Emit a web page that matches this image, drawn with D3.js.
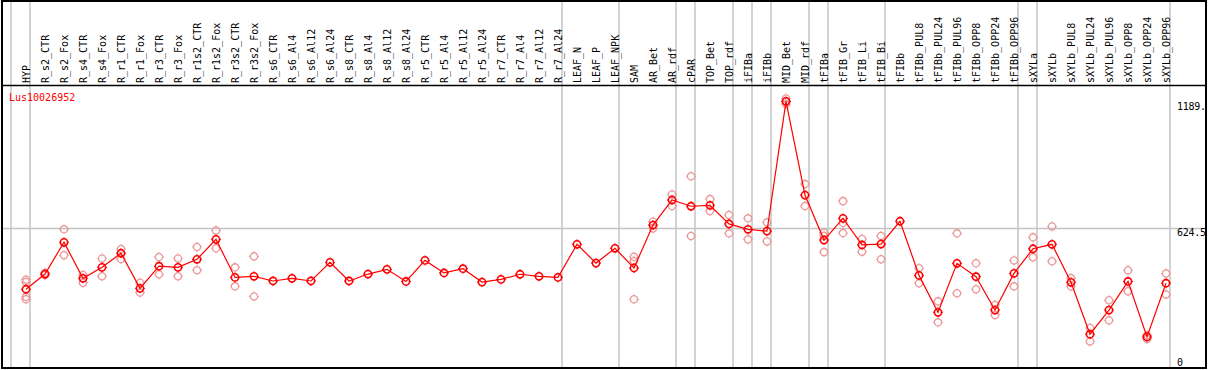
<!DOCTYPE html>
<html>
<head>
<meta charset="utf-8">
<script src="https://cdn.jsdelivr.net/npm/d3@7"></script>
<style>
  body { margin: 0; background: #fff; }
  svg { display: block; }
  text { font-family: "DejaVu Sans Mono", monospace; font-size: 10px; }
</style>
</head>
<body>
<div id="chart"></div>
<script>
// sample names (x categories)
var samples = ["HYP","R_s2_CTR","R_s2_Fox","R_s4_CTR","R_s4_Fox","R_r1_CTR","R_r1_Fox","R_r3_CTR","R_r3_Fox",
  "R_r1s2_CTR","R_r1s2_Fox","R_r3s2_CTR","R_r3s2_Fox","R_s6_CTR","R_s6_Al4","R_s6_Al12","R_s6_Al24",
  "R_s8_CTR","R_s8_Al4","R_s8_Al12","R_s8_Al24","R_r5_CTR","R_r5_Al4","R_r5_Al12","R_r5_Al24",
  "R_r7_CTR","R_r7_Al4","R_r7_Al12","R_r7_Al24","LEAF_N","LEAF_P","LEAF_NPK","SAM","AR_Bet","AR_rdf",
  "cPAR","TOP_Bet","TOP_rdf","iFIBa","iFIBb","MID_Bet","MID_rdf","tFIBa","tFIB_Gr","tFIB_Li","tFIB_Bi",
  "tFIBb","tFIBb_PUL8","tFIBb_PUL24","tFIBb_PUL96","tFIBb_OPP8","tFIBb_OPP24","tFIBb_OPP96",
  "sXYLa","sXYLb","sXYLb_PUL8","sXYLb_PUL24","sXYLb_PUL96","sXYLb_OPP8","sXYLb_OPP24","sXYLb_OPP96"];

// mean expression per sample
var means = [352,420,562,401,450,513,356,455,450,486,575,405,410,389,401,389,472,389,420,441,387,481,425,444,384,
  396,419,410,405,553,469,535,447,639,751,723,727,644,620,612,1192,773,572,669,550,554,656,414,249,468,408,259,423,
  533,553,383,151,259,387,139,379];

// replicate values per sample (empty = no replicates shown)
var reps = [[395,385,318,307],[426,416],[620,504],[416,381],[490,410],[532,487],[381,337],[496,419],[490,410],
  [541,437],[615,535],[450,365],[499,320],[],[],[],[],[],[],[],[],[],[],[],[],[],[],[],[],[],[],[],
  [497,478,307],[654,624],[776,724],[857,590],[755,702],[684,602],[669,575],[651,566],[1205,1190,1180],[822,724],
  [605,590,518],[746,649,603],[577,520],[590,486],[],[446,379],[298,204],[602,334],[468,352],[282,237],[481,365],
  [584,495],[633,477],[402,365],[179,119],[303,213],[437,343],[146,130],[423,329]];

// samples where a new tissue group starts (gray separators)
var groupStarts = ["HYP","R_s2_CTR","LEAF_N","SAM","cPAR","TOP_Bet","iFIBa","iFIBb","MID_Bet","tFIBa","tFIB_Gr",
  "tFIBb","sXYLa","sXYLb"];

var yTickValues = [1189.5, 624.5, 0];
var yTickLabels = ["1189.", "624.5", "0"];
var geneName = "Lus10026952";
var yMax = 1249;

var W = 1209, H = 370;
var colW = 19, x0 = 11;

var svg = d3.select("#chart").append("svg")
    .attr("width", W)
    .attr("height", H);

var xScale = d3.scaleBand()
    .domain(samples)
    .range([x0, x0 + colW * samples.length])
    .padding(0);

var yScale = d3.scaleLinear()
    .domain([0, yMax])
    .range([368, 88.6]);

function px(name) { return xScale(name) + 15; }

// gray horizontal line at mid value
svg.append("line")
    .attr("x1", 1).attr("x2", 1207)
    .attr("y1", Math.round(yScale(624.5)) + 0.5)
    .attr("y2", Math.round(yScale(624.5)) + 0.5)
    .attr("stroke", "#c4c4c4")
    .attr("stroke-width", 1.5);

// group separators
var sepX = groupStarts.map(function (d) { return xScale(d); });
sepX.push(xScale.range()[1]);
svg.selectAll(".sep")
    .data(sepX)
    .enter()
    .append("line")
    .attr("class", "sep")
    .attr("x1", function (d) { return d; })
    .attr("x2", function (d) { return d; })
    .attr("y1", 0).attr("y2", 369)
    .attr("stroke", "#c4c4c4")
    .attr("stroke-width", 1.5);

// header separator
svg.append("line")
    .attr("x1", 1).attr("x2", 1207)
    .attr("y1", 85.5).attr("y2", 85.5)
    .attr("stroke", "#000")
    .attr("stroke-width", 1.5);

// frame
svg.append("rect")
    .attr("x", 2).attr("y", 1)
    .attr("width", 1204).attr("height", 367)
    .attr("fill", "none")
    .attr("stroke", "#000")
    .attr("stroke-width", 2);

// sample labels (rotated)
svg.selectAll(".xlab")
    .data(samples)
    .enter()
    .append("text")
    .attr("class", "xlab")
    .attr("transform", function (d) {
        return "translate(" + (xScale(d) + 18.5) + ",83) rotate(-90)";
    })
    .attr("text-anchor", "start")
    .attr("fill", "#000")
    .text(function (d) { return d; });

// right value labels
svg.selectAll(".ylab")
    .data(yTickValues)
    .enter()
    .append("text")
    .attr("class", "ylab")
    .attr("x", 1177)
    .attr("y", function (d) {
        if (d === 0) return 366;
        return yScale(d) + 8;
    })
    .attr("fill", "#000")
    .attr("letter-spacing", -0.3)
    .text(function (d, i) { return yTickLabels[i]; });

// gene name
svg.append("text")
    .attr("x", 9)
    .attr("y", 101)
    .attr("fill", "red")
    .text(geneName);

function marker(sel, color, sw) {
    sel.append("circle")
        .attr("r", 3.6)
        .attr("fill", "none")
        .attr("stroke", color)
        .attr("stroke-width", sw);
    sel.append("path")
        .attr("d", "M-5,0h1.4M3.6,0h1.4M0,-5v1.4M0,3.6v1.4")
        .attr("stroke", color)
        .attr("stroke-width", 1);
}

// replicates
var repPts = [];
samples.forEach(function (s, i) {
    reps[i].forEach(function (v) { repPts.push({ name: s, value: v }); });
});
svg.selectAll(".rep")
    .data(repPts)
    .enter()
    .append("g")
    .attr("class", "rep")
    .attr("transform", function (d) {
        return "translate(" + px(d.name) + "," + yScale(d.value) + ")";
    })
    .call(marker, "#ec9a9a", 1.3);

// mean line
var line = d3.line()
    .x(function (d, i) { return px(samples[i]); })
    .y(function (d) { return yScale(d); });

svg.append("path")
    .datum(means)
    .attr("d", line)
    .attr("fill", "none")
    .attr("stroke", "red")
    .attr("stroke-width", 1.2);

svg.selectAll(".mean")
    .data(means)
    .enter()
    .append("g")
    .attr("class", "mean")
    .attr("transform", function (d, i) {
        return "translate(" + px(samples[i]) + "," + yScale(d) + ")";
    })
    .call(marker, "red", 1.6);
</script>
</body>
</html>
